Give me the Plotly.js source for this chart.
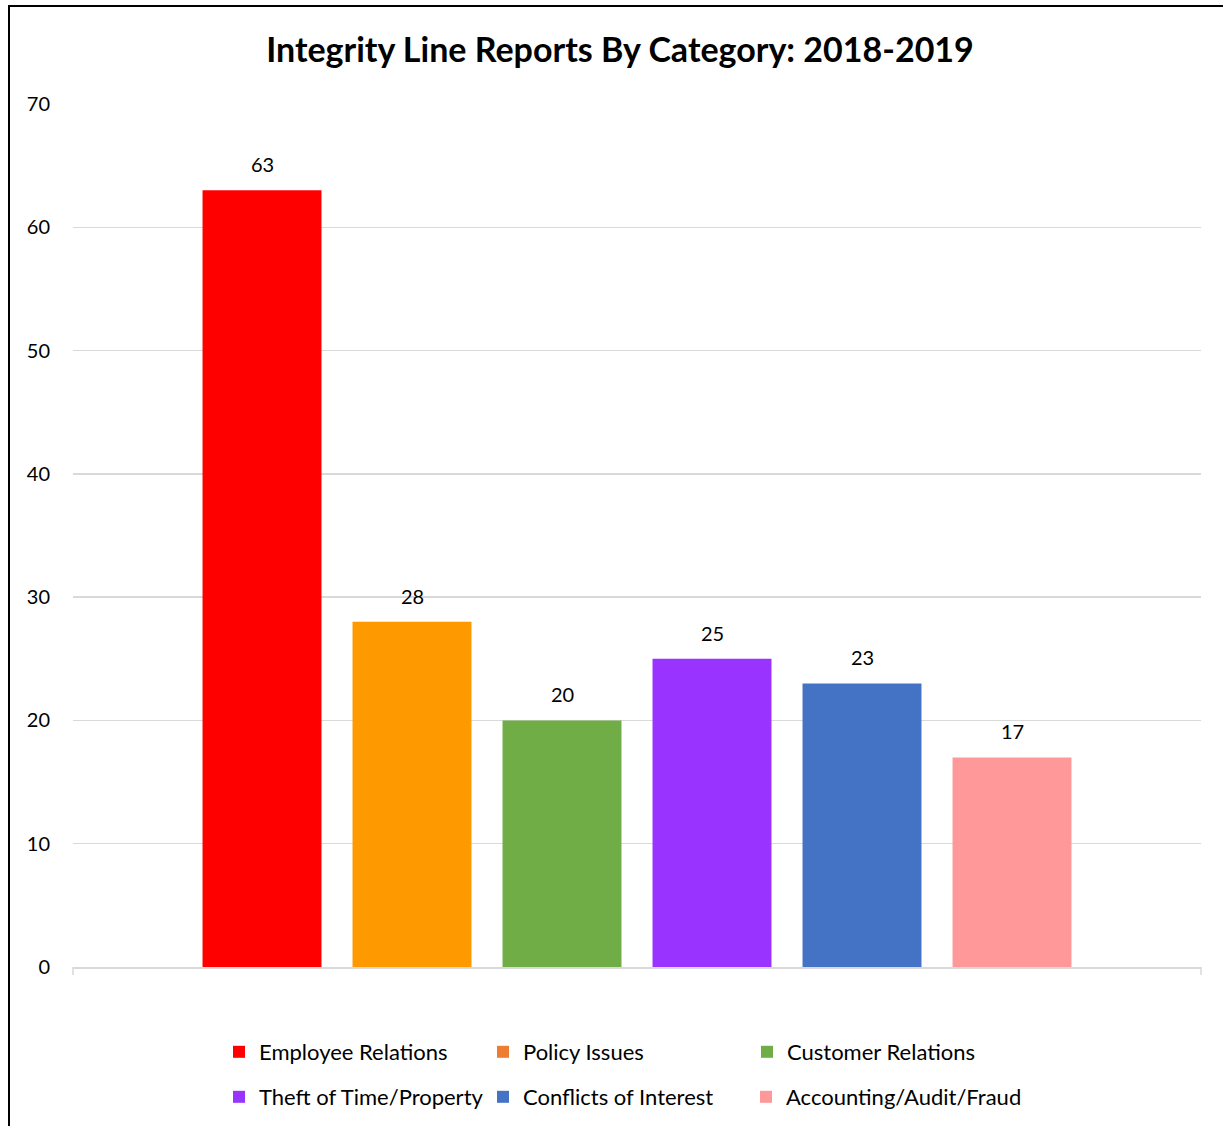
<!DOCTYPE html>
<html>
<head>
<meta charset="utf-8">
<script src="https://cdn.plot.ly/plotly-3.0.1.min.js"></script>
<style>html,body{margin:0;padding:0;background:#fff;}#chart{width:1223px;height:1126px;}</style>
</head>
<body>
<div id="chart"></div>
<script>
var categories = ["Employee Relations", "Policy Issues", "Customer Relations", "Theft of Time/Property", "Conflicts of Interest", "Accounting/Audit/Fraud"];
var values = [63, 28, 20, 25, 23, 17];
var barColors = ["#FF0000", "#FF9900", "#70AD47", "#9933FF", "#4472C4", "#FF9999"];
var legendColors = ["#FF0000", "#ED7D31", "#70AD47", "#9933FF", "#4472C4", "#FF9999"];
var legendGroups = ["legend", "legend", "legend", "legend2", "legend2", "legend3"];
var yTicks = [0, 10, 20, 30, 40, 50, 60, 70];
var titleText = "Integrity Line Reports By Category: 2018-2019";

var FONT = "Lato, 'Open Sans', sans-serif";
var traces = [];
categories.forEach(function (c, i) {
  var sameColor = barColors[i] === legendColors[i];
  traces.push({
    type: "bar",
    x: [c],
    y: [values[i]],
    name: c,
    marker: { color: barColors[i] },
    showlegend: sameColor,
    legend: legendGroups[i],
    legendrank: i + 1,
    hoverinfo: "x+y"
  });
  if (!sameColor) {
    traces.push({
      type: "bar",
      x: [c],
      y: [null],
      name: c,
      marker: { color: legendColors[i] },
      showlegend: true,
      legend: legendGroups[i],
      legendrank: i + 1,
      hoverinfo: "skip"
    });
  }
});

var annotations = categories.map(function (c, i) {
  return {
    x: c, y: values[i], xref: "x", yref: "y",
    text: String(values[i]), showarrow: false,
    yanchor: "bottom", yshift: 12,
    font: { family: FONT, size: 20, color: "#000" }
  };
});

var legendCommon = {
  orientation: "h",
  xref: "container", yref: "container",
  xanchor: "left", yanchor: "middle",
  entrywidth: 219,
  font: { family: FONT, size: 22, color: "#000" },
  bgcolor: "rgba(0,0,0,0)",
  traceorder: "normal"
};

var layout = {
  width: 1223, height: 1126,
  margin: { l: 73, r: 22, t: 104, b: 159 },
  paper_bgcolor: "#fff", plot_bgcolor: "#fff",
  barmode: "overlay",
  bargap: 0.207,
  title: {
    text: "<b>" + titleText + "</b>",
    font: { family: FONT, size: 34, color: "#000" },
    xref: "container", x: 620 / 1223, xanchor: "center",
    yref: "container", y: 1 - 50 / 1126, yanchor: "middle"
  },
  xaxis: {
    type: "category",
    range: [-1.26, 6.26],
    autorange: false,
    showticklabels: false,
    ticks: "",
    showgrid: false,
    showline: true, linecolor: "#d9d9d9", linewidth: 1.5,
    fixedrange: true
  },
  yaxis: {
    range: [0, 70], autorange: false,
    tickvals: yTicks,
    ticks: "",
    ticklabelstandoff: 22,
    tickfont: { family: FONT, size: 20, color: "#000" },
    showgrid: true, gridcolor: "#d9d9d9", gridwidth: 1.5,
    zeroline: false, showline: false,
    fixedrange: true
  },
  legend: Object.assign({}, legendCommon, { x: 219 / 1223, y: 1 - 1052 / 1126 }),
  legend2: Object.assign({}, legendCommon, { x: 219 / 1223, y: 1 - 1097 / 1126 }),
  legend3: Object.assign({}, legendCommon, { entrywidth: 0, x: 746 / 1223, y: 1 - 1097 / 1126 }),
  annotations: annotations,
  shapes: [
    { type: "line", xref: "paper", yref: "paper", ysizemode: "pixel", yanchor: 0,
      x0: 0, x1: 0, y0: 0, y1: -8, line: { color: "#d9d9d9", width: 1.5 } },
    { type: "line", xref: "paper", yref: "paper", ysizemode: "pixel", yanchor: 0,
      x0: 1, x1: 1, y0: 0, y1: -8, line: { color: "#d9d9d9", width: 1.5 } },
    { type: "rect", xref: "paper", yref: "paper",
      x0: (9 - 73) / 1128, x1: 1.2, y0: -0.3, y1: 1 + (104 - 6) / 863,
      line: { color: "#000", width: 2 }, fillcolor: "rgba(0,0,0,0)", layer: "above" }
  ],
  showlegend: true
};

Plotly.newPlot("chart", traces, layout, { displayModeBar: false, staticPlot: true });
</script>
</body>
</html>
